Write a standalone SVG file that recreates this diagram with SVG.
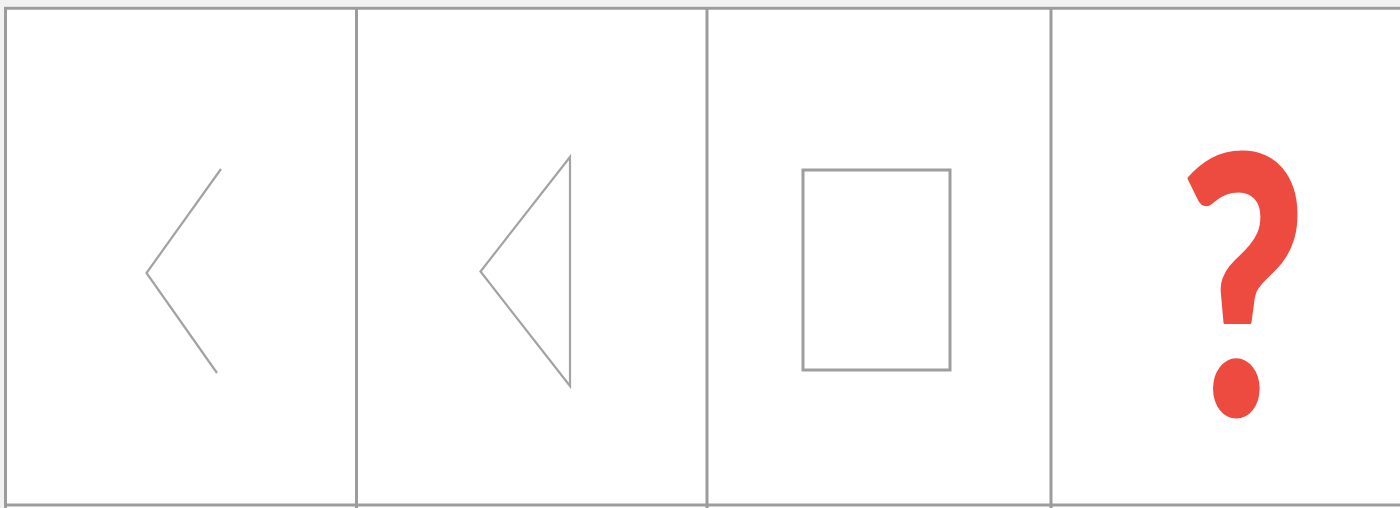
<svg xmlns="http://www.w3.org/2000/svg" width="1400" height="508" viewBox="0 0 1400 508">
  <style>
    .frame { stroke: #9c9c9c; stroke-width: 3; fill: none; }
    .shape { stroke: #a3a3a3; stroke-width: 2.2; fill: none; stroke-linejoin: miter; }
    .rectshape { stroke: #9e9e9e; stroke-width: 3; fill: none; }
    .qmark { font-family: Lato, "Liberation Sans", Arial, sans-serif; font-weight: 900; fill: #ee4b40; stroke: #ee4b40; stroke-width: 3; stroke-linejoin: round; }
  </style>
  <rect x="0" y="0" width="1400" height="508" fill="#ffffff"/>
  <rect x="0" y="0" width="1400" height="6.5" fill="#f2f2f2"/>
  <rect x="0" y="0" width="4" height="508" fill="#f2f2f2"/>
  <g id="frame">
    <line class="frame" x1="4" y1="8.3" x2="1400" y2="8.3"/>
    <line class="frame" x1="4" y1="505" x2="1400" y2="505" stroke-width="4"/>
    <line class="frame" x1="5.5" y1="7" x2="5.5" y2="508"/>
    <line class="frame" x1="356.5" y1="7" x2="356.5" y2="508"/>
    <line class="frame" x1="707" y1="7" x2="707" y2="508"/>
    <line class="frame" x1="1051" y1="7" x2="1051" y2="508"/>
  </g>
  <g id="panel1">
    <polyline class="shape" points="221,169 146.5,273 217,373"/>
  </g>
  <g id="panel2">
    <polygon class="shape" points="570,157 480.5,271.5 570,386"/>
  </g>
  <g id="panel3">
    <rect class="rectshape" x="803" y="170" width="147" height="200"/>
  </g>
  <g id="panel4">
    <text class="qmark" x="0" y="0" font-size="358" text-anchor="middle" transform="translate(1243,414.5) scale(0.76,1)">?</text>
  </g>
</svg>
